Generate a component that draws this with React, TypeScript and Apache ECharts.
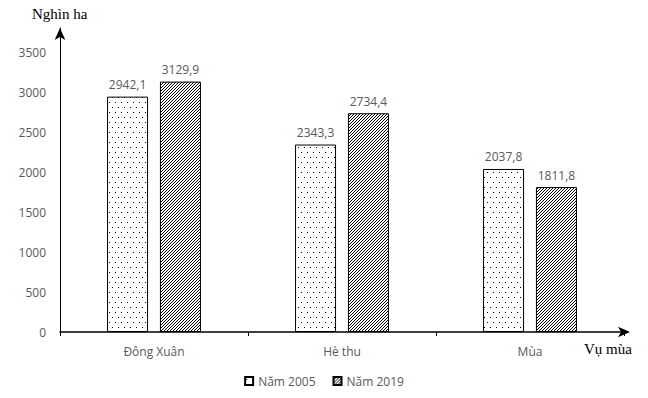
import React, { useEffect, useRef } from "react";
import * as echarts from "echarts";

const categories = ["Đông Xuân", "Hè thu", "Mùa"];
const values2005 = [2942.1, 2343.3, 2037.8];
const values2019 = [3129.9, 2734.4, 1811.8];
const seriesNames = ["Năm 2005", "Năm 2019"];

function makeDots(): HTMLCanvasElement {
  const c = document.createElement("canvas");
  c.width = 6;
  c.height = 10;
  const ctx = c.getContext("2d")!;
  ctx.fillStyle = "#ffffff";
  ctx.fillRect(0, 0, 6, 10);
  ctx.fillStyle = "#000000";
  ctx.fillRect(1, 2, 1, 1);
  ctx.fillRect(4, 7, 1, 1);
  return c;
}

function makeHatch(): HTMLCanvasElement {
  const c = document.createElement("canvas");
  c.width = 3;
  c.height = 3;
  const ctx = c.getContext("2d")!;
  ctx.fillStyle = "#ffffff";
  ctx.fillRect(0, 0, 3, 3);
  ctx.fillStyle = "#000000";
  ctx.fillRect(0, 2, 1, 1);
  ctx.fillRect(1, 1, 1, 1);
  ctx.fillRect(2, 0, 1, 1);
  return c;
}

const fmt = (v: number) => v.toFixed(1).replace(".", ",");
const FONT = "Open Sans";

export default function App() {
  const ref = useRef<HTMLDivElement>(null);
  useEffect(() => {
    if (!ref.current) return;
    const chart = echarts.init(ref.current, null, { renderer: "svg" });
    const dots = { image: makeDots(), repeat: "repeat" };
    const hatch = { image: makeHatch(), repeat: "repeat" };
    const labelStyle = {
      show: true,
      position: "top",
      distance: 6,
      color: "#595959",
      fontSize: 12,
      fontFamily: FONT,
      formatter: (p: any) => fmt(p.value),
    };
    chart.setOption({
      animation: false,
      backgroundColor: "#ffffff",
      grid: { left: 60, right: 24, top: 28, bottom: 66 },
      legend: {
        bottom: 6,
        left: "center",
        itemWidth: 8,
        itemHeight: 8,
        itemGap: 17,
        icon: "rect",
        textStyle: { color: "#595959", fontSize: 12, fontFamily: FONT },
        data: seriesNames,
      },
      xAxis: {
        type: "category",
        data: categories,
        axisLine: {
          lineStyle: { color: "#000", width: 1.5 },
          symbol: ["none", "arrow"],
          symbolSize: [8, 12],
          symbolOffset: [0, 6],
        },
        axisTick: { show: true, length: 4, lineStyle: { color: "#000" } },
        axisLabel: {
          color: "#595959",
          fontSize: 12,
          fontFamily: FONT,
          margin: 13,
        },
      },
      yAxis: {
        type: "value",
        min: 0,
        max: 3800,
        interval: 500,
        splitLine: { show: false },
        axisLine: {
          show: true,
          lineStyle: { color: "#000", width: 1 },
          symbol: ["none", "arrow"],
          symbolSize: [8, 12],
        },
        axisTick: { show: false },
        axisLabel: {
          color: "#595959",
          fontSize: 12,
          fontFamily: FONT,
          margin: 14,
          showMaxLabel: false,
          formatter: (v: number) => (v % 500 === 0 ? String(v) : ""),
        },
      },
      graphic: [
        {
          type: "text",
          left: 32,
          top: 6,
          style: {
            text: "Nghìn ha",
            fill: "#000",
            font: "15px 'Liberation Serif'",
          },
        },
        {
          type: "text",
          left: 584,
          top: 341,
          style: {
            text: "Vụ mùa",
            fill: "#000",
            font: "15px 'Liberation Serif'",
          },
        },
      ],
      series: [
        {
          name: seriesNames[0],
          type: "bar",
          data: values2005,
          barWidth: 41,
          barGap: "29%",
          itemStyle: { color: dots, borderColor: "#000", borderWidth: 1 },
          label: labelStyle,
        },
        {
          name: seriesNames[1],
          type: "bar",
          data: values2019,
          barWidth: 41,
          barGap: "29%",
          itemStyle: { color: hatch, borderColor: "#000", borderWidth: 1 },
          label: labelStyle,
        },
      ],
    });
    return () => chart.dispose();
  }, []);
  return (
    <div
      ref={ref}
      style={{ position: "absolute", left: 0, top: 0, width: 648, height: 398 }}
    />
  );
}
